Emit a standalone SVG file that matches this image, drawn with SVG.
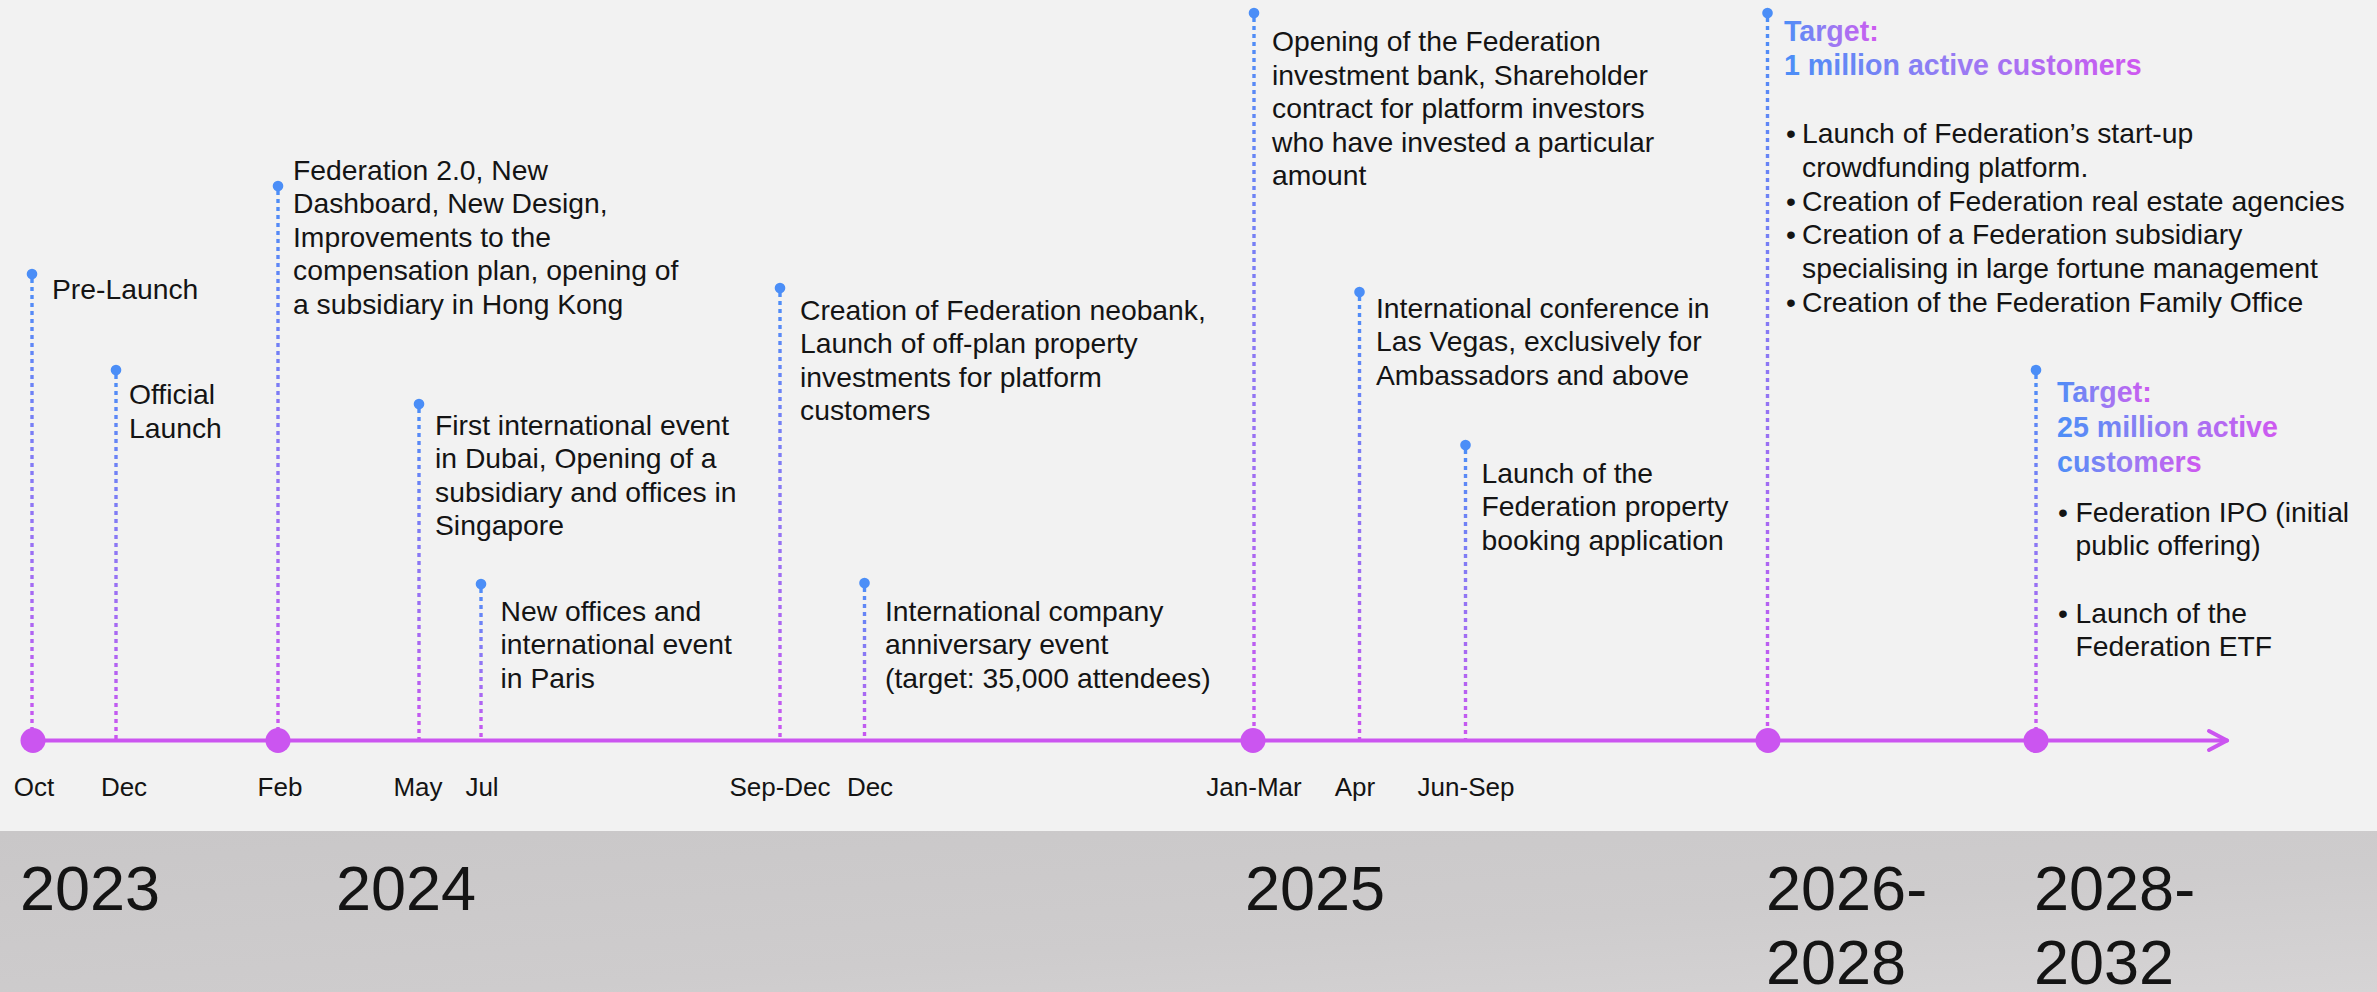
<svg xmlns="http://www.w3.org/2000/svg" xmlns:xlink="http://www.w3.org/1999/xlink" width="2377" height="992" viewBox="0 0 2377 992">
<defs>
<linearGradient id="vg" gradientUnits="userSpaceOnUse" x1="0" x2="0" y1="0" y2="740">
<stop offset="0" stop-color="#4b8ef7"/>
<stop offset="0.5" stop-color="#8f76f4"/>
<stop offset="1" stop-color="#cb55f0"/>
</linearGradient>
<linearGradient id="gOct" xlink:href="#vg" y1="274" y2="740"/>
<linearGradient id="gDec" xlink:href="#vg" y1="370" y2="740"/>
<linearGradient id="gFeb" xlink:href="#vg" y1="186" y2="740"/>
<linearGradient id="gMay" xlink:href="#vg" y1="404" y2="740"/>
<linearGradient id="gJul" xlink:href="#vg" y1="584" y2="740"/>
<linearGradient id="gSep" xlink:href="#vg" y1="288" y2="740"/>
<linearGradient id="gDec2" xlink:href="#vg" y1="583" y2="740"/>
<linearGradient id="gJan" xlink:href="#vg" y1="13" y2="740"/>
<linearGradient id="gApr" xlink:href="#vg" y1="292" y2="740"/>
<linearGradient id="gJun" xlink:href="#vg" y1="445" y2="740"/>
<linearGradient id="g26" xlink:href="#vg" y1="13" y2="740"/>
<linearGradient id="g28" xlink:href="#vg" y1="370" y2="740"/>
<linearGradient id="tg" x1="0" y1="0" x2="1" y2="0">
<stop offset="0" stop-color="#4b8ef7"/>
<stop offset="0.5" stop-color="#9a7af3"/>
<stop offset="1" stop-color="#cf58f0"/>
</linearGradient>
<linearGradient id="band" x1="0" y1="0" x2="1" y2="1">
<stop offset="0" stop-color="#c9c7c8"/>
<stop offset="0.6" stop-color="#cecccd"/>
<stop offset="1" stop-color="#d6d4d5"/>
</linearGradient>
<style>
.t{font-family:"Liberation Sans",Arial,sans-serif;font-size:28.3px;fill:#141414}
.m{font-size:26px;text-anchor:middle}
.y{font-size:63px}
.b{font-weight:bold;font-size:28.6px;fill:url(#tg)}
.stem{stroke-width:3.4;stroke-dasharray:4 4;fill:none}
.dot{fill:#4b8ef7}
.ax{stroke:#cb55f0;stroke-width:4;fill:none;stroke-linecap:round;stroke-linejoin:round}
.big{fill:#cb55f0}
</style>
</defs>
<rect x="0" y="0" width="2377" height="992" fill="#f2f2f2"/>
<rect x="0" y="831" width="2377" height="161" fill="url(#band)"/>

<g id="connectors">
<path class="stem" d="M32 279V740" stroke="url(#gOct)"/>
<path class="stem" d="M116 375V740" stroke="url(#gDec)"/>
<path class="stem" d="M278 191V740" stroke="url(#gFeb)"/>
<path class="stem" d="M419 409V740" stroke="url(#gMay)"/>
<path class="stem" d="M481 589V740" stroke="url(#gJul)"/>
<path class="stem" d="M780 293V740" stroke="url(#gSep)"/>
<path class="stem" d="M864.5 588V740" stroke="url(#gDec2)"/>
<path class="stem" d="M1254 18V740" stroke="url(#gJan)"/>
<path class="stem" d="M1359.5 297V740" stroke="url(#gApr)"/>
<path class="stem" d="M1465.5 450V740" stroke="url(#gJun)"/>
<path class="stem" d="M1767.5 18V740" stroke="url(#g26)"/>
<path class="stem" d="M2036 375V740" stroke="url(#g28)"/>
</g>

<g id="axis">
<path class="ax" d="M33 740.5H2227"/>
<path class="ax" d="M2209 731L2227 740.5L2209 750"/>
<circle class="big" cx="33" cy="740.5" r="12.5"/>
<circle class="big" cx="278" cy="740.5" r="12.5"/>
<circle class="big" cx="1253" cy="740.5" r="12.5"/>
<circle class="big" cx="1768" cy="740.5" r="12.5"/>
<circle class="big" cx="2036" cy="740.5" r="12.5"/>
</g>

<g id="ev-oct">
<circle class="dot" cx="32" cy="274" r="5.3"/>
<text class="t" x="52" y="299">Pre-Launch</text>
<text class="t m" x="34" y="796">Oct</text>
</g>
<g id="ev-dec">
<circle class="dot" cx="116" cy="370" r="5.3"/>
<text class="t" x="129" y="404">Official</text>
<text class="t" x="129" y="437.5">Launch</text>
<text class="t m" x="124" y="796">Dec</text>
</g>
<g id="ev-feb">
<circle class="dot" cx="278" cy="186" r="5.3"/>
<text class="t" x="293" y="180">Federation 2.0, New</text>
<text class="t" x="293" y="213">Dashboard, New Design,</text>
<text class="t" x="293" y="246.5">Improvements to the</text>
<text class="t" x="293" y="280">compensation plan, opening of</text>
<text class="t" x="293" y="313.5">a subsidiary in Hong Kong</text>
<text class="t m" x="280" y="796">Feb</text>
</g>
<g id="ev-may">
<circle class="dot" cx="419" cy="404" r="5.3"/>
<text class="t" x="435" y="434.5">First international event</text>
<text class="t" x="435" y="468">in Dubai, Opening of a</text>
<text class="t" x="435" y="501.5">subsidiary and offices in</text>
<text class="t" x="435" y="535">Singapore</text>
<text class="t m" x="418" y="796">May</text>
</g>
<g id="ev-jul">
<circle class="dot" cx="481" cy="584" r="5.3"/>
<text class="t" x="500.5" y="620.7">New offices and</text>
<text class="t" x="500.5" y="654.2">international event</text>
<text class="t" x="500.5" y="687.7">in Paris</text>
<text class="t m" x="482" y="796">Jul</text>
</g>
<g id="ev-sepdec">
<circle class="dot" cx="780" cy="288" r="5.3"/>
<text class="t" x="800" y="320">Creation of Federation neobank,</text>
<text class="t" x="800" y="353.4">Launch of off-plan property</text>
<text class="t" x="800" y="386.8">investments for platform</text>
<text class="t" x="800" y="420.2">customers</text>
<text class="t m" x="780" y="796">Sep-Dec</text>
</g>
<g id="ev-dec2">
<circle class="dot" cx="864.5" cy="583" r="5.3"/>
<text class="t" x="885" y="620.7">International company</text>
<text class="t" x="885" y="654.2">anniversary event</text>
<text class="t" x="885" y="687.7">(target: 35,000 attendees)</text>
<text class="t m" x="870" y="796">Dec</text>
</g>
<g id="ev-janmar">
<circle class="dot" cx="1254" cy="13" r="5.3"/>
<text class="t" x="1272" y="51">Opening of the Federation</text>
<text class="t" x="1272" y="84.5">investment bank, Shareholder</text>
<text class="t" x="1272" y="118">contract for platform investors</text>
<text class="t" x="1272" y="151.5">who have invested a particular</text>
<text class="t" x="1272" y="185">amount</text>
<text class="t m" x="1254" y="796">Jan-Mar</text>
</g>
<g id="ev-apr">
<circle class="dot" cx="1359.5" cy="292" r="5.3"/>
<text class="t" x="1376" y="317.7">International conference in</text>
<text class="t" x="1376" y="351.2">Las Vegas, exclusively for</text>
<text class="t" x="1376" y="384.7">Ambassadors and above</text>
<text class="t m" x="1355" y="796">Apr</text>
</g>
<g id="ev-junsep">
<circle class="dot" cx="1465.5" cy="445" r="5.3"/>
<text class="t" x="1481.5" y="482.7">Launch of the</text>
<text class="t" x="1481.5" y="516.2">Federation property</text>
<text class="t" x="1481.5" y="549.7">booking application</text>
<text class="t m" x="1466" y="796">Jun-Sep</text>
</g>
<g id="ev-2026">
<circle class="dot" cx="1767.5" cy="13" r="5.3"/>
<text class="t b" x="1784" y="40.7">Target:</text>
<text class="t b" x="1784" y="75">1 million active customers</text>
<text class="t" x="1786" y="143.3">•</text>
<text class="t" x="1802" y="143.3">Launch of Federation’s start-up</text>
<text class="t" x="1802" y="176.8">crowdfunding platform.</text>
<text class="t" x="1786" y="210.5">•</text>
<text class="t" x="1802" y="210.5">Creation of Federation real estate agencies</text>
<text class="t" x="1786" y="244.2">•</text>
<text class="t" x="1802" y="244.2">Creation of a Federation subsidiary</text>
<text class="t" x="1802" y="277.7">specialising in large fortune management</text>
<text class="t" x="1786" y="311.5">•</text>
<text class="t" x="1802" y="311.5">Creation of the Federation Family Office</text>
</g>
<g id="ev-2028">
<circle class="dot" cx="2036" cy="370" r="5.3"/>
<text class="t b" x="2057" y="401.7">Target:</text>
<text class="t b" x="2057" y="436.7">25 million active</text>
<text class="t b" x="2057" y="471.7">customers</text>
<text class="t" x="2058" y="521.7">•</text>
<text class="t" x="2075.5" y="521.7">Federation IPO (initial</text>
<text class="t" x="2075.5" y="554.5">public offering)</text>
<text class="t" x="2058" y="622.7">•</text>
<text class="t" x="2075.5" y="622.7">Launch of the</text>
<text class="t" x="2075.5" y="656">Federation ETF</text>
</g>

<g id="years">
<text class="t y" x="20" y="910">2023</text>
<text class="t y" x="336" y="910">2024</text>
<text class="t y" x="1245" y="910">2025</text>
<text class="t y" x="1766" y="910">2026-</text>
<text class="t y" x="1766" y="984">2028</text>
<text class="t y" x="2034" y="910">2028-</text>
<text class="t y" x="2034" y="984">2032</text>
</g>
</svg>
